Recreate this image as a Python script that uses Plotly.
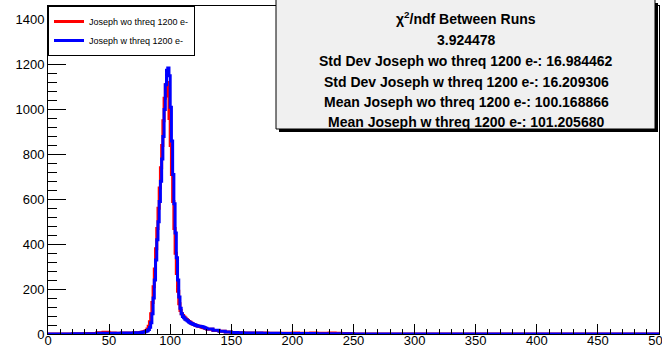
import plotly.graph_objects as go

# ---------------- data ----------------
# bin lower edges (fine bins around the peak, coarse bins in the tails)
bin_lo = ([0, 20, 30, 40, 45, 50, 55, 60, 65, 70, 75, 76, 77, 78, 79]
          + list(range(80, 130))
          + list(range(130, 250, 5))
          + [250])
x_max = 500

red_counts = ([0, 1, 2, 6, 8, 4, 3, 4, 5, 6, 7, 8, 9, 10, 12]
              + [15, 22, 35, 55, 90, 140, 210, 290, 380, 470,
                 560, 650, 740, 840, 950, 1050, 1110, 1120, 1060, 960,
                 840, 710, 590, 470, 360, 270, 190, 135, 105, 90,
                 82, 76, 70, 65, 60, 56, 52, 48, 45, 42,
                 40, 38, 36, 34, 33, 31, 29, 28, 26, 25]
              + [21, 16, 12, 9, 7, 6, 5, 5, 4, 4, 3, 3, 3, 3, 4, 3, 3, 4, 3, 3, 4, 3, 2, 2]
              + [0])

blue_counts = ([0, 1, 1, 3, 3, 3, 3, 4, 5, 6, 6, 7, 8, 9, 10]
               + [12, 15, 20, 30, 50, 90, 160, 240, 330, 420,
                  500, 590, 680, 780, 880, 1000, 1110, 1175, 1185, 1150,
                  1010, 860, 710, 580, 450, 340, 240, 165, 115, 90,
                  78, 72, 66, 62, 58, 54, 50, 47, 44, 42,
                  40, 38, 36, 35, 34, 33, 32, 30, 28, 26]
               + [22, 17, 12, 9, 7, 6, 5, 4, 4, 3, 3, 3, 2, 2, 2, 2, 2, 2, 1, 1, 1, 1, 1, 1]
               + [0])

red_name = "Joseph wo threq 1200 e-"
blue_name = "Joseph w threq 1200 e-"

stats_lines = [
    "χ<sup>2</sup>/ndf Between Runs",
    "3.924478",
    "Std Dev Joseph wo threq 1200 e-: 16.984462",
    "Std Dev Joseph w threq 1200 e-: 16.209306",
    "Mean Joseph wo threq 1200 e-: 100.168866",
    "Mean Joseph w threq 1200 e-: 101.205680",
]

# ---------------- layout geometry ----------------
W, H = 662, 350
ML, MR, MT, MB = 48, 3, 6, 16
PW, PH = W - ML - MR, H - MT - MB


def px_x(px):
    return (px - ML) / PW


def px_y(py):
    return (H - MB - py) / PH


fig = go.Figure()
fig.add_trace(go.Scatter(
    x=bin_lo + [x_max], y=red_counts + [0], mode="lines", line_shape="hv",
    line=dict(color="#ff0000", width=3), name=red_name))
fig.add_trace(go.Scatter(
    x=bin_lo + [x_max], y=blue_counts + [0], mode="lines", line_shape="hv",
    line=dict(color="#0000ff", width=3), name=blue_name))

font_family = "Liberation Sans, Arial, Helvetica, sans-serif"

shapes = [
    # shadow of stats box
    dict(type="rect", xref="paper", yref="paper",
         x0=px_x(279), x1=px_x(658), y0=px_y(132), y1=px_y(3),
         fillcolor="black", line=dict(width=0), layer="above"),
    dict(type="rect", xref="paper", yref="paper",
         x0=px_x(276), x1=px_x(655), y0=px_y(129), y1=px_y(-2),
         fillcolor="#f0f0f0", line=dict(color="black", width=1), layer="above"),
]

annotations = []
line_y = [18, 39.5, 61, 81.5, 102, 122]
for txt, yy in zip(stats_lines, line_y):
    annotations.append(dict(
        xref="paper", yref="paper", x=px_x(466), y=px_y(yy),
        text="<b>" + txt + "</b>", showarrow=False,
        xanchor="center", yanchor="middle",
        font=dict(family=font_family, size=14, color="black")))

fig.update_layout(
    width=W, height=H,
    margin=dict(l=ML, r=MR, t=MT, b=MB, pad=0),
    paper_bgcolor="white", plot_bgcolor="white",
    font=dict(family=font_family, size=13, color="black"),
    showlegend=True,
    legend=dict(x=0, y=1, xanchor="left", yanchor="top",
                bgcolor="white", bordercolor="black", borderwidth=1,
                font=dict(family=font_family, size=9, color="black"),
                tracegroupgap=2),
    shapes=shapes,
    annotations=annotations,
)

fig.update_xaxes(
    range=[0, x_max], showgrid=False, zeroline=False,
    showline=True, linecolor="black", linewidth=1, mirror=True,
    ticks="inside", ticklen=10, tickcolor="black", dtick=50, tick0=0,
    minor=dict(dtick=10, ticks="inside", ticklen=5, tickcolor="black"),
    tickfont=dict(size=13), automargin=False,
    ticklabelstandoff=-6, ticklabeloverflow="allow")

fig.update_yaxes(
    range=[0, 1461], showgrid=False, zeroline=False,
    showline=True, linecolor="black", linewidth=1, mirror=True,
    ticks="inside", ticklen=18, tickcolor="black", dtick=200, tick0=0,
    minor=dict(dtick=40, ticks="inside", ticklen=9, tickcolor="black"),
    tickfont=dict(size=13), automargin=False)

fig.write_html("out.html")
